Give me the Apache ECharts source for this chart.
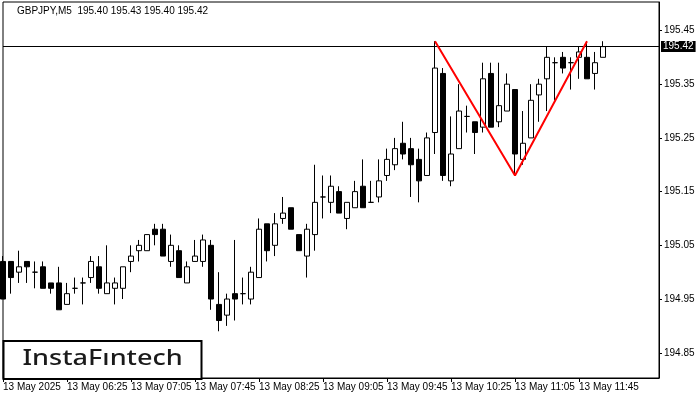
<!DOCTYPE html>
<html>
<head>
<meta charset="utf-8">
<script src="https://cdn.jsdelivr.net/npm/echarts@6.0.0/dist/echarts.min.js"></script>
<style>html,body{margin:0;padding:0;background:#fff;}#c{width:700px;height:400px;}</style>
</head>
<body>
<div id="c"></div>
<script>
// 5-minute candles, GBPJPY, 13 May 2025 05:45 .. 12:00
const opens = [195.02,195.02,195.00,195.02,195.00,195.01,194.98,194.98,194.94,194.97,
  194.98,194.99,195.01,194.96,194.97,194.97,195.02,195.04,195.04,195.08,
  195.08,195.02,195.04,194.98,195.02,195.02,195.05,194.94,194.92,194.96,
  194.96,194.95,194.99,195.09,195.05,195.10,195.12,195.07,195.03,195.07,
  195.14,195.13,195.15,195.10,195.12,195.16,195.13,195.14,195.18,195.20,
  195.24,195.23,195.21,195.18,195.26,195.37,195.17,195.23,195.29,195.28,
  195.27,195.37,195.28,195.30,195.34,195.21,195.25,195.33,195.36,195.39,
  195.40,195.39,195.40,195.40,195.37,195.40];
const highs = [195.03,195.02,195.04,195.02,195.02,195.02,194.98,195.01,194.98,194.99,
  194.99,195.03,195.03,195.05,194.99,195.01,195.05,195.06,195.07,195.09,
  195.09,195.07,195.05,195.02,195.06,195.07,195.06,195.00,194.96,195.06,
  194.99,195.01,195.10,195.09,195.11,195.14,195.12,195.07,195.09,195.20,
  195.18,195.18,195.16,195.13,195.17,195.21,195.17,195.21,195.23,195.25,
  195.28,195.25,195.23,195.26,195.43,195.38,195.29,195.35,195.31,195.28,
  195.39,195.39,195.39,195.37,195.34,195.30,195.35,195.36,195.42,195.40,
  195.41,195.40,195.42,195.43,195.41,195.43];
const lows = [194.95,194.96,194.98,194.98,194.97,194.97,194.96,194.93,194.94,194.96,
  194.94,194.98,194.96,194.96,194.94,194.95,195.00,195.02,195.04,195.05,
  195.03,195.01,194.99,194.98,195.02,195.01,194.93,194.89,194.90,194.91,
  194.94,194.94,194.99,195.02,195.03,195.09,195.08,195.04,194.99,195.04,
  195.10,195.11,195.11,195.08,195.12,195.12,195.13,195.13,195.17,195.19,
  195.21,195.14,195.13,195.18,195.22,195.17,195.16,195.23,195.26,195.22,
  195.26,195.27,195.27,195.30,195.18,195.20,195.25,195.28,195.30,195.32,
  195.37,195.34,195.36,195.36,195.34,195.40];
const closes = [194.95,194.99,195.01,195.01,195.00,194.97,194.97,194.93,194.96,194.97,
  194.98,195.02,194.97,194.98,194.98,195.01,195.03,195.05,195.07,195.07,
  195.03,195.05,194.99,195.01,195.03,195.06,194.95,194.91,194.95,194.95,
  194.96,195.00,195.08,195.04,195.09,195.11,195.08,195.04,195.08,195.13,
  195.14,195.16,195.11,195.13,195.15,195.12,195.13,195.17,195.21,195.23,
  195.22,195.20,195.17,195.25,195.38,195.18,195.22,195.30,195.29,195.26,
  195.36,195.27,195.31,195.35,195.22,195.24,195.32,195.35,195.40,195.39,
  195.38,195.39,195.41,195.36,195.39,195.42];
const xTickLabels = ['13 May 2025','13 May 06:25','13 May 07:05','13 May 07:45','13 May 08:25',
  '13 May 09:05','13 May 09:45','13 May 10:25','13 May 11:05','13 May 11:45'];
const yTickValues = [194.85,194.95,195.05,195.15,195.25,195.35,195.45];
const patternIdx = [54, 64, 73];            // double-top pattern vertices (candle index)
const patternVal = [195.43, 195.18, 195.43];
const lastPrice = 195.42;
const titleText = 'GBPJPY,M5  195.40 195.43 195.40 195.42';

const TOTAL_SLOTS = 83; // 76 candles + empty right margin
const cats = [];
for (let i = 0; i < TOTAL_SLOTS; i++) cats.push(String(i));
const candleData = opens.map((o, i) => [o, closes[i], lows[i], highs[i]]);
const lineData = patternIdx.map((ix, k) => [ix, patternVal[k]]);

const FONT = 'Liberation Sans';
const chart = echarts.init(document.getElementById('c'), null, {renderer: 'canvas'});
chart.setOption({
  animation: false,
  backgroundColor: '#fff',
  grid: {left: 3, right: 41, top: 2, bottom: 22, show: true, borderColor: '#000', borderWidth: 1, backgroundColor: '#fff'},
  xAxis: {
    type: 'category', data: cats, boundaryGap: false,
    axisLine: {show: true, lineStyle: {color: '#000', width: 1}},
    axisTick: {show: true, length: 4, lineStyle: {color: '#000'}, interval: (i) => i % 8 === 0 && i <= 72},
    axisLabel: {show: true, interval: (i) => i % 8 === 0 && i <= 72, margin: 4, align: 'left',
      fontFamily: FONT, fontSize: 10, color: '#000',
      formatter: (v, i) => xTickLabels[Math.round(i / 8)] || ''},
    splitLine: {show: false}
  },
  yAxis: {
    type: 'value', position: 'right', min: 194.803, max: 195.503, scale: true,
    axisLine: {show: true, lineStyle: {color: '#000', width: 1}},
    axisTick: {show: true, length: 3, lineStyle: {color: '#000'}, customValues: yTickValues},
    axisLabel: {show: true, margin: 5, fontFamily: FONT, fontSize: 10, color: '#000',
      customValues: yTickValues, formatter: (v) => v.toFixed(2)},
    splitLine: {show: false}
  },
  series: [
    {
      type: 'candlestick', data: candleData, barWidth: 5,
      itemStyle: {color: '#fff', color0: '#000', borderColor: '#000', borderColor0: '#000', borderColorDoji: '#000', borderWidth: 1},
      emphasis: {disabled: true},
      markLine: {
        silent: true, symbol: ['none', 'none'],
        lineStyle: {color: '#000', width: 1, type: 'solid'},
        label: {show: true, position: 'end', distance: 2, formatter: lastPrice.toFixed(2),
          backgroundColor: '#000', color: '#fff', padding: [1, 2, 0, 2], fontFamily: FONT, fontSize: 10},
        data: [{yAxis: lastPrice}]
      }
    },
    {
      type: 'line', data: lineData, symbol: 'none', silent: true,
      lineStyle: {color: '#ff0000', width: 2}, z: 5
    }
  ],
  graphic: [
    {type: 'text', left: 17, top: 6, style: {text: titleText, font: '10px "Liberation Sans"', fill: '#000'}},
    {type: 'rect', shape: {x: 3.5, y: 341, width: 198, height: 38}, style: {fill: '#fff', stroke: '#000', lineWidth: 2}, z: 100},
    {type: 'text', x: 22.5, y: 358.5, scaleX: 1.23, z: 101,
      style: {text: 'InstaFıntech', font: '500 22px "Noto Sans"', fill: '#1a1a1a', textVerticalAlign: 'middle', textAlign: 'left'}}
  ]
});
</script>
</body>
</html>
